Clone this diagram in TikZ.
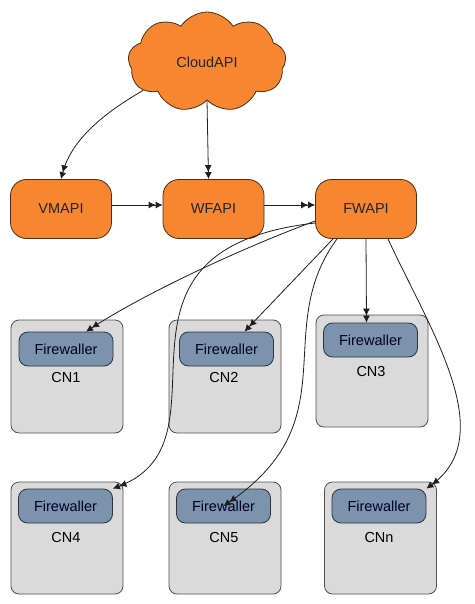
\documentclass[tikz,border=0pt]{standalone}
\usepackage{fontspec}
\setmainfont{Liberation Sans}
\usetikzlibrary{shapes.symbols,arrows.meta}

\definecolor{apiorange}{RGB}{246,134,48}
\definecolor{apiedge}{RGB}{80,45,20}
\definecolor{cngray}{RGB}{218,218,218}
\definecolor{cnedge}{RGB}{80,80,80}
\definecolor{fwblue}{RGB}{123,147,173}
\definecolor{fwedge}{RGB}{45,52,62}
\definecolor{linkgray}{RGB}{30,30,30}

\begin{document}
\begin{tikzpicture}[x=1pt, y=-1pt,
    font=\fontsize{14.5}{17}\selectfont,
    api/.style={rectangle, rounded corners=16pt, draw=apiedge, fill=apiorange, line width=0.8pt, minimum width=101pt, minimum height=59pt, text=black!85},
    cnbox/.style={rectangle, rounded corners=8pt, draw=cnedge, fill=cngray, line width=0.8pt, minimum width=112pt, minimum height=113pt},
    fwbox/.style={rectangle, rounded corners=9pt, draw=fwedge, fill=fwblue, line width=0.8pt, minimum width=94pt, minimum height=34pt, text=black!85!blue},
    link/.style={draw=linkgray, line width=0.8pt, -{Latex[length=7pt,width=7pt]Latex[length=7pt,width=7pt]}}]
    \useasboundingbox (0,0) rectangle (474,604);

    \node[cloud, cloud puffs=9, cloud puff arc=115, aspect=1.58, draw=apiedge, fill=apiorange, line width=0.8pt, minimum width=158pt, minimum height=100pt, inner sep=0pt, text=black!85] (cloud) at (207,62) {CloudAPI};
    \node[api] (vmapi) at (61,209) {VMAPI};
    \node[api] (wfapi) at (213.5,209) {WFAPI};
    \node[api] (fwapi) at (366,209) {FWAPI};

    % compute nodes
    \node[cnbox] (cn1) at (67,376.5) {};
    \node[cnbox] (cn2) at (225,376.5) {};
    \node[cnbox, minimum height=112pt] (cn3) at (372,371) {};
    \node[cnbox, minimum height=112pt] (cn4) at (67,538) {};
    \node[cnbox, minimum height=112pt] (cn5) at (225,538) {};
    \node[cnbox, minimum height=112pt] (cnn) at (380.5,538) {};

    \node[fwbox] (fw1) at (66,349) {Firewaller};
    \node[fwbox] (fw2) at (226.5,349) {Firewaller};
    \node[fwbox] (fw3) at (370.5,340) {Firewaller};
    \node[fwbox] (fw4) at (65.5,506) {Firewaller};
    \node[fwbox] (fw5) at (223.5,506) {Firewaller};
    \node[fwbox] (fwn) at (379,506) {Firewaller};

    \node (cn1lbl) at (66,377.5) {CN1};
    \node (cn2lbl) at (224,377.5) {CN2};
    \node (cn3lbl) at (371,372) {CN3};
    \node (cn4lbl) at (66,537.5) {CN4};
    \node (cn5lbl) at (224,537.5) {CN5};
    \node (cnnlbl) at (379,537.5) {CNn};

    % API pfeile
    \draw[link] (cloud.204) .. controls (95,118) and (70,145) .. (vmapi.north);
    \draw[link] (cloud.south) -- ([xshift=-5pt]wfapi.north);
    \draw[link] ([yshift=4pt]vmapi.east) -- ([yshift=4pt]wfapi.west);
    \draw[link] ([yshift=4pt]wfapi.east) -- ([yshift=4pt]fwapi.west);

    % FWAPI zu den firewallern
    \draw[link] ([yshift=-12pt]fwapi.west) .. controls (250,245) and (150,290) .. ([xshift=20pt]fw1.north);
    \draw[link] ([yshift=-14pt]fwapi.west) .. controls (80,250) and (240,440) .. (fw4.north east);
    \draw[link] ([xshift=-33pt]fwapi.south) -- ([xshift=18pt]fw2.north);
    \draw[link] ([xshift=-29pt]fwapi.south) .. controls (270,330) and (350,420) .. (fw5.center);
    \draw[link] (fwapi.south) -- ([xshift=-4pt]fw3.north);
    \draw[link] ([xshift=22pt]fwapi.south) .. controls (430,330) and (500,435) .. (fwn.north east);
\end{tikzpicture}
\end{document}
